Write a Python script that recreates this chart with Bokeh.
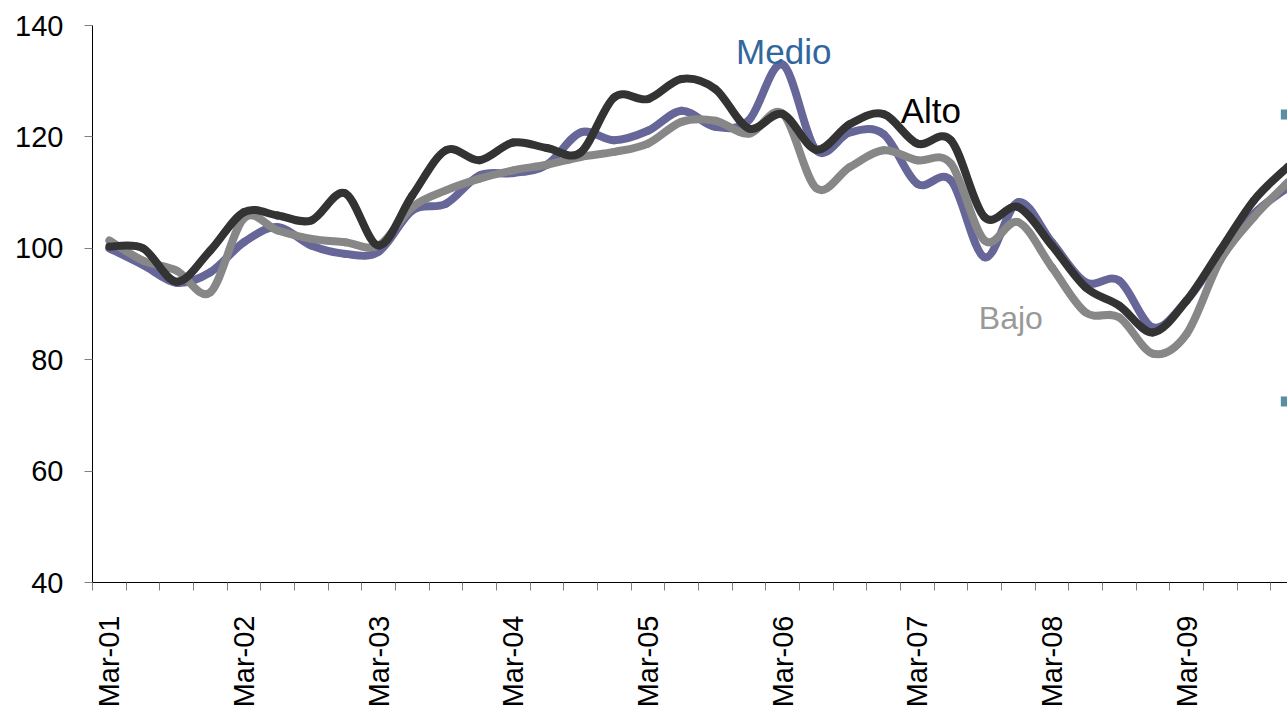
import math
from bokeh.plotting import figure
from bokeh.models import Range1d, FixedTicker, Label, ColumnDataSource
from bokeh.embed import file_html
from bokeh.resources import INLINE

# ---------------- data ----------------
quarters = [f"{m}-{yr:02d}" for yr in range(1, 10) for m in ["Mar", "Jun", "Sep", "Dec"]]

alto = [100.3, 100.0, 94.0, 99.6, 106.5, 105.9, 105.0, 109.9, 100.5, 109.5,
        117.6, 115.8, 119.0, 118.0, 117.2, 127.1, 126.8, 130.4, 128.6, 121.5,
        124.1, 117.7, 122.3, 124.1, 118.8, 119.4, 105.6, 107.4, 100.5, 93.0,
        89.7, 84.9, 90.6, 99.6, 108.6, 114.6]

medio = [100.0, 97.0, 93.8, 95.7, 101.1, 103.8, 100.5, 99.0, 99.4, 106.8,
         108.0, 113.1, 113.5, 115.0, 120.8, 119.4, 121.1, 124.7, 121.8, 123.0,
         133.0, 117.6, 120.8, 120.5, 111.6, 112.2, 98.4, 108.3, 101.1, 93.9,
         94.2, 85.8, 90.6, 99.0, 106.2, 110.9]

bajo = [101.4, 97.8, 96.0, 92.1, 105.4, 103.2, 101.7, 101.1, 100.5, 107.4,
        110.4, 112.5, 114.0, 115.0, 116.4, 117.3, 118.8, 122.7, 122.9, 120.6,
        124.2, 110.8, 114.6, 117.6, 115.8, 115.2, 101.4, 104.7, 96.6, 88.5,
        87.6, 81.1, 84.6, 97.8, 105.6, 111.8]

y_ticks = [40, 60, 80, 100, 120, 140]
cut_marker_y = [124.0, 72.5]

# ---------------- helpers ----------------
def smooth_source(ys):
    """Bezier control points (Excel-like smoothed line) derived from the data."""
    n = len(ys)
    xs = list(range(n))
    d = dict(x0=[], y0=[], x1=[], y1=[], cx0=[], cy0=[], cx1=[], cy1=[])
    for i in range(n - 1):
        pm = max(i - 1, 0)
        pp = min(i + 2, n - 1)
        d["x0"].append(xs[i]); d["y0"].append(ys[i])
        d["x1"].append(xs[i + 1]); d["y1"].append(ys[i + 1])
        d["cx0"].append(xs[i] + (xs[i + 1] - xs[pm]) / 6.0)
        d["cy0"].append(ys[i] + (ys[i + 1] - ys[pm]) / 6.0)
        d["cx1"].append(xs[i + 1] - (xs[pp] - xs[i]) / 6.0)
        d["cy1"].append(ys[i + 1] - (ys[pp] - ys[i]) / 6.0)
    return ColumnDataSource(d)

# ---------------- figure ----------------
p = figure(width=1287, height=710,
           x_range=Range1d(-0.5, 35.0), y_range=Range1d(40, 140),
           output_backend="svg", toolbar_location=None,
           min_border_left=92, min_border_right=0,
           min_border_top=25, min_border_bottom=128)
p.outline_line_color = None
p.grid.visible = False
p.background_fill_color = "white"
p.border_fill_color = "white"

series = [(medio, "#666699"), (bajo, "#878787"), (alto, "#333333")]
for ys, col in series:
    src = smooth_source(ys)
    p.bezier(x0="x0", y0="y0", x1="x1", y1="y1", cx0="cx0", cy0="cy0",
             cx1="cx1", cy1="cy1", source=src, line_color=col,
             line_width=8, line_cap="round", line_join="round")

# clipped legend squares at the right edge
p.scatter(x=[len(quarters) - 1 - 0.05] * len(cut_marker_y), y=cut_marker_y,
          marker="square", size=10, fill_color="#5B8DA3", line_color=None)

# ---------------- axes ----------------
label_font = "Liberation Sans"
mar_idx = [i for i, q in enumerate(quarters) if q.startswith("Mar")]

xa = p.xaxis[0]
xa.ticker = FixedTicker(ticks=mar_idx,
                        minor_ticks=[i - 0.5 for i in range(len(quarters) + 1)])
xa.major_label_overrides = {i: quarters[i] for i in mar_idx}
xa.major_label_orientation = math.pi / 2
xa.major_tick_out = 0
xa.major_tick_in = 0
xa.minor_tick_out = 8
xa.minor_tick_in = 0
xa.minor_tick_line_color = "#808080"
xa.axis_line_color = "black"
xa.axis_line_width = 1
xa.major_label_standoff = 25
xa.major_label_text_font = label_font
xa.major_label_text_font_size = "29px"
xa.major_label_text_color = "black"

ya = p.yaxis[0]
ya.ticker = FixedTicker(ticks=y_ticks)
ya.major_tick_out = 8
ya.major_tick_in = 0
ya.minor_tick_out = 0
ya.minor_tick_in = 0
ya.major_tick_line_color = "#808080"
ya.axis_line_color = "black"
ya.axis_line_width = 1
ya.major_label_standoff = 21
ya.major_label_text_font = label_font
ya.major_label_text_font_size = "29px"
ya.major_label_text_color = "black"

# ---------------- series labels ----------------
p.add_layout(Label(x=18.62, y=135.4, text="Medio", text_font=label_font,
                   text_font_size="35px", text_color="#31679E",
                   text_baseline="alphabetic", text_align="left"))
p.add_layout(Label(x=23.51, y=124.8, text="Alto", text_font=label_font,
                   text_font_size="35px", text_color="black",
                   text_baseline="alphabetic", text_align="left"))
p.add_layout(Label(x=25.83, y=87.5, text="Bajo", text_font=label_font,
                   text_font_size="32px", text_color="#999999",
                   text_baseline="alphabetic", text_align="left"))

open("out.html", "w").write(file_html(p, INLINE))
